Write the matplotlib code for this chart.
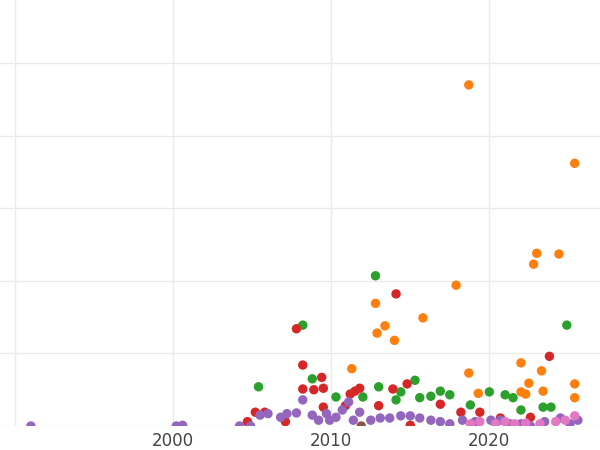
import matplotlib.pyplot as plt

# values (year, value in grid units)
orange_x = [2018.7, 2025.4, 2023.0, 2024.4, 2022.8, 2017.9, 2012.8, 2015.8, 2012.9, 2013.4, 2014.0,
            2011.3, 2022.0, 2023.3, 2018.7, 2025.4, 2022.5, 2023.4, 2022.0, 2022.3, 2025.4, 2019.3]
orange_y = [4.70, 3.62, 2.38, 2.37, 2.23, 1.94, 1.69, 1.49, 1.28, 1.38, 1.18,
            0.79, 0.87, 0.76, 0.73, 0.58, 0.59, 0.48, 0.47, 0.44, 0.39, 0.45]
green_x = [2012.8, 2024.9, 2008.2, 2005.4, 2008.8, 2013.0, 2015.3, 2016.9, 2017.5, 2020.0, 2021.0,
           2021.5, 2015.6, 2016.3, 2014.4, 2010.3, 2012.0, 2014.1, 2018.8, 2023.4, 2023.9, 2022.0]
green_y = [2.07, 1.39, 1.39, 0.54, 0.65, 0.54, 0.63, 0.48, 0.43, 0.47, 0.43,
           0.39, 0.39, 0.41, 0.47, 0.40, 0.40, 0.36, 0.29, 0.26, 0.26, 0.22]
red_x = [2014.1, 2007.8, 2008.2, 2023.8, 2009.4, 2008.2, 2008.9, 2009.5, 2011.8, 2011.2, 2011.5, 2013.9, 2014.8,
         2016.9, 2009.5, 2005.2, 2005.8, 2013.0, 2010.9, 2007.1, 2004.7, 2015.0, 2018.2, 2019.4, 2022.6, 2020.7]
red_y = [1.82, 1.34, 0.84, 0.96, 0.67, 0.51, 0.50, 0.52, 0.52, 0.44, 0.48, 0.51, 0.58,
         0.30, 0.26, 0.19, 0.19, 0.28, 0.28, 0.06, 0.06, 0.01, 0.19, 0.19, 0.12, 0.11]
purple_x = [1991.0, 2000.2, 2000.6, 2004.2, 2004.9, 2006.0, 2005.5, 2007.2, 2006.8, 2007.8, 2008.2, 2008.8,
            2009.2, 2009.7, 2009.9, 2010.3, 2010.7, 2011.1, 2011.4, 2011.8, 2012.5, 2013.1, 2013.7, 2014.4,
            2015.0, 2015.6, 2016.3, 2016.9, 2017.5, 2018.3, 2019.1, 2020.1, 2020.7, 2021.3, 2022.0, 2022.6,
            2023.5, 2024.5, 2025.1, 2025.6]
purple_y = [0.0, 0.0, 0.01, 0.0, 0.0, 0.17, 0.15, 0.17, 0.12, 0.18, 0.36, 0.15,
            0.08, 0.17, 0.08, 0.12, 0.22, 0.33, 0.08, 0.19, 0.08, 0.11, 0.11, 0.14,
            0.14, 0.11, 0.08, 0.06, 0.03, 0.08, 0.06, 0.08, 0.08, 0.03, 0.03, 0.0,
            0.06, 0.11, 0.03, 0.08]
pink_x = [2018.8, 2019.4, 2020.4, 2021.0, 2021.6, 2022.3, 2023.2, 2024.2, 2024.8, 2025.4]
pink_y = [0.03, 0.06, 0.03, 0.06, 0.03, 0.04, 0.03, 0.06, 0.08, 0.14]
brown_x = [2011.9]
brown_y = [0.0]

fig = plt.figure(figsize=(6, 4.5), dpi=100)
ax = fig.add_axes([0, 24 / 450, 1, 426 / 450])

for xs, ys, c in [(orange_x, orange_y, '#ff7f0e'), (green_x, green_y, '#2ca02c'),
                  (red_x, red_y, '#d62728'), (brown_x, brown_y, '#8c564b'),
                  (purple_x, purple_y, '#9467bd'), (pink_x, pink_y, '#e377c2')]:
    ax.scatter(xs, ys, s=46, color=c, edgecolors='none', zorder=3, clip_on=True)

ax.set_xlim(1989.05, 2027.0)
ax.set_ylim(0, 5.87)
ax.set_xticks([1990, 2000, 2010, 2020])
ax.set_xticklabels(['', '2000', '2010', '2020'])
ax.set_yticks([0, 1, 2, 3, 4, 5])
ax.set_yticklabels([])
ax.grid(color='#ebebeb', linewidth=1)
ax.set_axisbelow(True)
for s in ax.spines.values():
    s.set_visible(False)
ax.tick_params(length=0, labelsize=12, colors='#444444', pad=4)

fig.savefig('out.png', dpi=100)
